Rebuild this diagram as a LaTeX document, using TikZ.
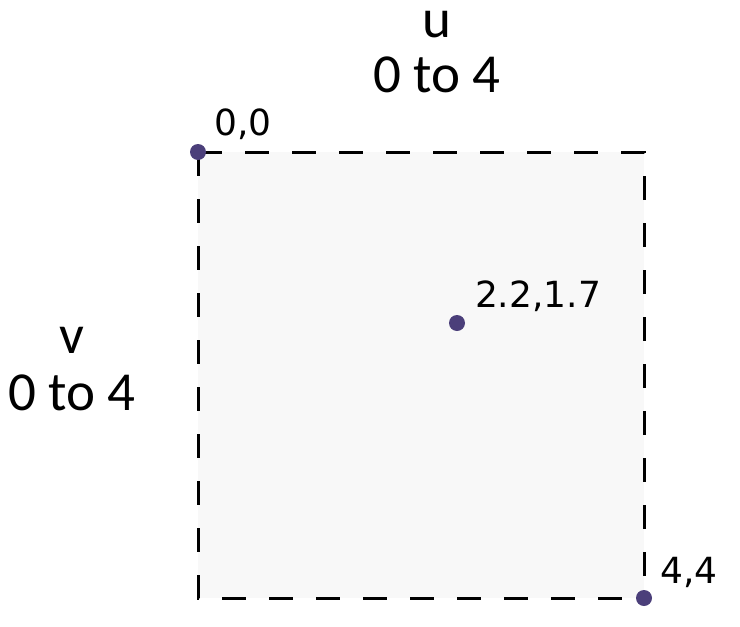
\documentclass[tikz,border=0pt]{standalone}
\usepackage{fontspec}
\setmainfont{Carlito}
\newfontfamily\bigfont{Carlito}
\newfontfamily\labfont{DejaVu Sans}
\definecolor{dotc}{HTML}{4B3F7A}
\definecolor{boxfill}{HTML}{F8F8F8}
\tikzset{
  big/.style={font=\bigfont\fontsize{55}{60}\selectfont, anchor=base, inner sep=0pt, text height=0.6em},
  small/.style={font=\labfont\fontsize{36}{42}\selectfont, anchor=base, inner sep=0pt},
  dotmark/.style={circle, fill=dotc, minimum size=16pt, inner sep=0pt},
  dashbox/.style={draw=black, line width=3pt, dash pattern=on 24pt off 23pt}
}
\begin{document}
\begin{tikzpicture}[x=1pt,y=-1pt]
\useasboundingbox (0,0) rectangle (740,627);
\coordinate (tl) at (198,152);
\coordinate (tr) at (644,152);
\coordinate (bl) at (198,598);
\coordinate (br) at (644,598);
\fill[boxfill] (tl) rectangle (br);
\draw[dashbox] (tl) -- (tr) -- (br);
\draw[dashbox] (tl) -- (bl) -- (br);
\node[dotmark] (p00) at (tl) {};
\node[dotmark] (pm) at (457,323) {};
\node[dotmark] (p44) at (br) {};
\node[small] (l00) at (243,135) {0,0};
\node[small] (lm) at (538,307) {2.2,1.7};
\node[small] (l44) at (689,583) {4,4};
\node[big] (u) at (437,37) {u};
\node[big] (ur) at (437,92) {0 to 4};
\node[big] (v) at (72,353) {v};
\node[big] (vr) at (72,410) {0 to 4};
\end{tikzpicture}
\end{document}
